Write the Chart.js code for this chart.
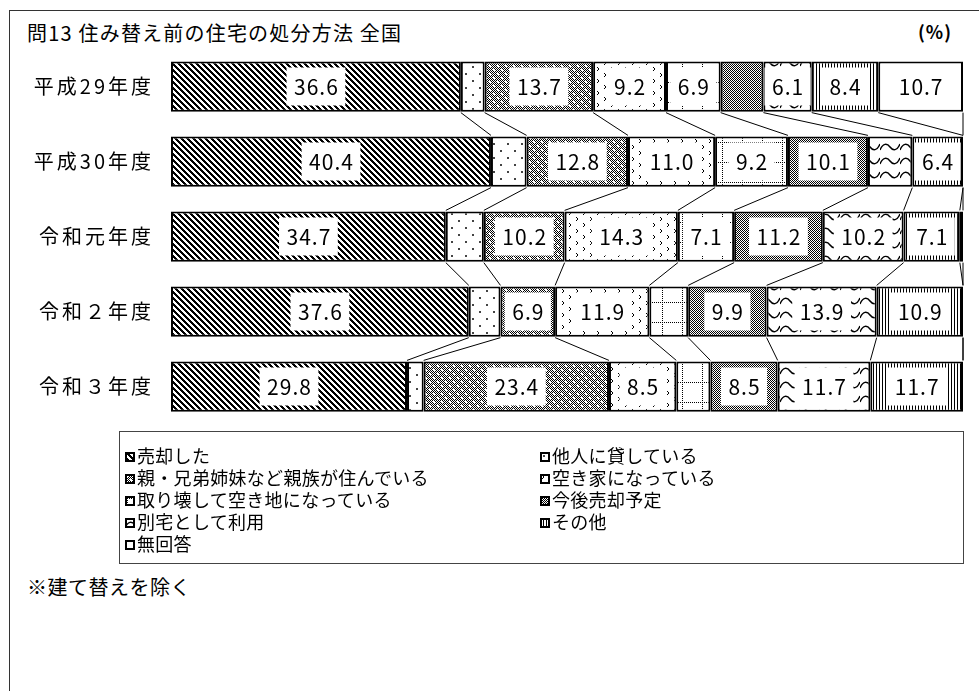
<!DOCTYPE html>
<html lang="ja">
<head>
<meta charset="utf-8">
<script src="https://cdn.jsdelivr.net/npm/chart.js@4.4.1/dist/chart.umd.min.js"></script>
<style>
    body { margin: 0; background: #fff; font-family: "Noto Sans CJK JP", sans-serif; color: #000; }
    #frame { position: absolute; left: 9px; top: 10px; width: 980px; height: 700px; border: 1px solid #333; }
    #title { position: absolute; left: 27px; top: 18px; font-size: 20px; letter-spacing: 1.2px; white-space: nowrap; }
    #unit { position: absolute; left: 918px; top: 18px; font-size: 18px; font-weight: bold; letter-spacing: 1px; }
    #wrap { position: absolute; left: 0; top: 0; width: 979px; height: 453px; }
    #legend { position: absolute; left: 119px; top: 431px; width: 843px; height: 131px; border: 1px solid #444; }
    .item { position: absolute; font-size: 18px; white-space: nowrap; line-height: 22px; letter-spacing: 0.3px; }
    .item canvas { width: 10px; height: 10px; vertical-align: 1px; margin-right: 2px; }
    #note { position: absolute; left: 27px; top: 572px; font-size: 20px; letter-spacing: 0.5px; }
</style>
</head>
<body>
<div id="frame"></div>
<div id="title">問13 住み替え前の住宅の処分方法 全国</div>
<div id="unit">(%)</div>
<div id="wrap"><canvas id="chart"></canvas></div>
<div id="legend"></div>
<div id="note">※建て替えを除く</div>
<script>
const categories = ['平成29年度', '平成30年度', '令和元年度', '令和２年度', '令和３年度'];
const seriesNames = [
    '売却した', '他人に貸している', '親・兄弟姉妹など親族が住んでいる', '空き家になっている',
    '取り壊して空き地になっている', '今後売却予定', '別宅として利用', 'その他', '無回答'
];
const sold      = [36.6, 40.4, 34.7, 37.6, 29.8];
const rented    = [3.0, 4.5, 4.8, 4.0, 2.1];
const relatives = [13.7, 12.8, 10.2, 6.9, 23.4];
const vacant    = [9.2, 11.0, 14.3, 11.9, 8.5];
const demolished = [6.9, 9.2, 7.1, 4.9, 4.3];
const toSell    = [5.4, 10.1, 11.2, 9.9, 8.5];
const secondHome = [6.1, 5.6, 10.2, 13.9, 11.7];
const other     = [8.4, 6.4, 7.1, 10.9, 11.7];
const noAnswer  = [10.7, 0, 0.4, 0, 0];
const seriesValues = [sold, rented, relatives, vacant, demolished, toSell, secondHome, other, noAnswer];

// pattern tiles
function tile(w, h, draw) {
    const c = document.createElement('canvas');
    c.width = w; c.height = h;
    const g = c.getContext('2d');
    g.fillStyle = '#fff';
    g.fillRect(0, 0, w, h);
    g.fillStyle = '#000';
    g.strokeStyle = '#000';
    draw(g, w, h);
    return c;
}
const tiles = [
    tile(6, 6, (g) => { for (let x = 0; x < 6; x++) for (let y = 0; y < 6; y++) if (((x - y) % 6 + 6) % 6 < 3) g.fillRect(x, y, 1, 1); }),
    tile(14, 14, (g) => { g.fillStyle = '#444'; g.fillRect(3, 3, 2, 2); g.fillRect(10, 10, 2, 2); }),
    tile(8, 8, (g) => {
        for (let x = 0; x < 8; x++) for (let y = 0; y < 8; y++) if ((x + y) % 2 === 0) g.fillRect(x, y, 1, 1);
        g.fillStyle = '#fff'; g.fillRect(1, 1, 2, 2); g.fillRect(5, 5, 2, 2);
    }),
    tile(14, 12, (g) => {
        g.lineWidth = 1;
        g.beginPath(); g.moveTo(2, 1); g.lineTo(4, 3); g.lineTo(2, 5); g.stroke();
        g.beginPath(); g.moveTo(9, 7); g.lineTo(11, 9); g.lineTo(9, 11); g.stroke();
    }),
    tile(20, 20, (g) => {
        for (let i = 0; i < 20; i += 2) { g.fillRect(i, 2, 1, 1); g.fillRect(2, i, 1, 1); }
    }),
    tile(4, 4, (g) => {
        for (let x = 0; x < 4; x++) for (let y = 0; y < 4; y++) if ((x + y) % 2 === 0) g.fillRect(x, y, 1, 1);
        g.fillRect(1, 1, 1, 1);
    }),
    tile(20, 14, (g) => {
        g.lineWidth = 1.5;
        g.beginPath();
        g.moveTo(0, 10);
        g.bezierCurveTo(3, 3, 7, 3, 10, 7);
        g.bezierCurveTo(13, 11, 17, 11, 20, 4);
        g.stroke();
    }),
    tile(3, 1, (g) => { g.fillRect(0, 0, 1, 1); }),
    tile(2, 2, () => {})
];
const probe = document.createElement('canvas').getContext('2d');
const patterns = tiles.map(t => probe.createPattern(t, 'repeat'));

// connector lines and value boxes
const barExtras = {
    id: 'barExtras',
    beforeDraw(chart) {
        chart.ctx.letterSpacing = '3px';
    },
    afterDatasetsDraw(chart) {
        const ctx = chart.ctx;
        ctx.save();
        ctx.strokeStyle = '#000';
        ctx.lineWidth = 1;
        chart.data.datasets.forEach((ds, k) => {
            const bars = chart.getDatasetMeta(k).data;
            for (let i = 0; i < bars.length - 1; i++) {
                const a = bars[i], b = bars[i + 1];
                ctx.beginPath();
                ctx.moveTo(a.x, a.y + a.height / 2 + 1);
                ctx.lineTo(b.x, b.y - b.height / 2 - 1);
                ctx.stroke();
            }
        });
        ctx.font = '21px "Noto Sans CJK JP"';
        ctx.letterSpacing = '1px';
        ctx.textAlign = 'center';
        ctx.textBaseline = 'middle';
        chart.data.datasets.forEach((ds, k) => {
            chart.getDatasetMeta(k).data.forEach((bar, i) => {
                const v = ds.data[i];
                if (v < 6) return;
                const txt = v.toFixed(1);
                const cx = (bar.x + bar.base) / 2;
                const w = ctx.measureText(txt).width + 14;
                ctx.fillStyle = '#fff';
                ctx.fillRect(cx - w / 2, bar.y - 19, w, 38);
                ctx.fillStyle = '#000';
                ctx.fillText(txt, cx + 0.5, bar.y + 1);
            });
        });
        ctx.restore();
    }
};

new Chart(document.getElementById('chart'), {
    type: 'bar',
    data: {
        labels: categories,
        datasets: seriesNames.map((name, k) => ({
            label: name,
            data: seriesValues[k],
            backgroundColor: patterns[k],
            borderColor: '#000',
            borderWidth: 2,
            borderSkipped: false,
            barPercentage: 0.67,
            categoryPercentage: 1
        }))
    },
    options: {
        indexAxis: 'y',
        responsive: true,
        maintainAspectRatio: false,
        animation: false,
        layout: { padding: { top: 49, right: 16, bottom: 3, left: 0 } },
        plugins: { legend: { display: false }, tooltip: { enabled: false } },
        scales: {
            x: { stacked: true, min: 0, max: 100, display: false },
            y: {
                stacked: true,
                grid: { display: false, drawTicks: false },
                border: { display: false },
                ticks: { color: '#000', padding: 17, font: { family: '"Noto Sans CJK JP"', size: 20 } },
                afterFit(scale) { scale.width = 171; }
            }
        }
    },
    plugins: [barExtras]
});

// legend in two columns
const legend = document.getElementById('legend');
seriesNames.forEach((name, k) => {
    const div = document.createElement('div');
    div.className = 'item';
    div.style.left = (k % 2 === 0 ? 5 : 420) + 'px';
    div.style.top = (12 + Math.floor(k / 2) * 22) + 'px';
    const sw = document.createElement('canvas');
    sw.width = 10; sw.height = 10;
    const g = sw.getContext('2d');
    g.fillStyle = g.createPattern(tiles[k], 'repeat');
    g.fillRect(0, 0, 10, 10);
    g.strokeStyle = '#000';
    g.lineWidth = 2;
    g.strokeRect(1, 1, 8, 8);
    div.appendChild(sw);
    div.appendChild(document.createTextNode(name));
    legend.appendChild(div);
});
</script>
</body>
</html>
